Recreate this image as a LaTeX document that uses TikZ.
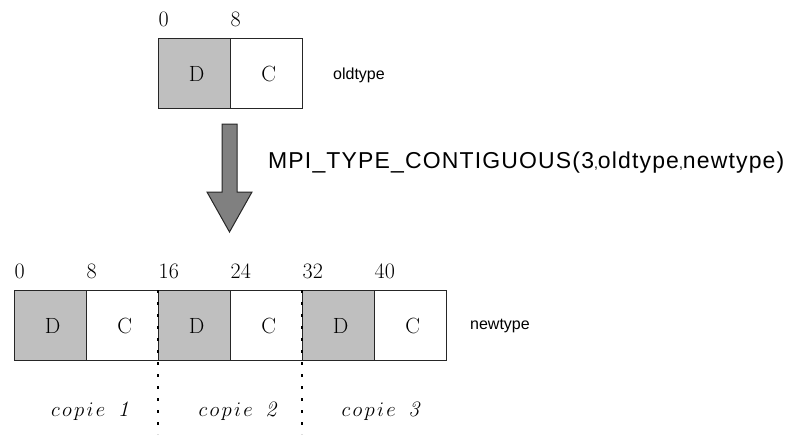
\documentclass[tikz,border=0pt]{standalone}
\usepackage{fontspec}
\newfontfamily\lblfont{Liberation Sans}
\newfontfamily\widelbl[LetterSpace=5]{Liberation Sans}
\newcommand{\cpy}[1]{$c\mkern2mu o\mkern2mu p\mkern2mu i\mkern2mu e\mkern11mu \mathit{#1}$}
\begin{document}
\begin{tikzpicture}[x=1pt,y=-1pt,
  cell/.style={draw=black!85, line width=1.3pt, minimum width=72pt, minimum height=70pt, inner sep=0pt, anchor=north west, font=\fontsize{22}{24}\selectfont},
  dcell/.style={cell, fill=black!25},
  num/.style={anchor=base west, inner sep=0pt, font=\fontsize{22}{24}\selectfont},
  sfl/.style={anchor=west, inner sep=0pt, font=\lblfont\fontsize{16}{18}\selectfont},
  cop/.style={anchor=base, inner sep=0pt, font=\fontsize{22}{24}\selectfont},
  sep/.style={line width=2.8pt, dash pattern=on 2.8pt off 9.2pt, black}]
\useasboundingbox (0,0) rectangle (796,442);
% old type
\node[dcell] (o1) at (158,38) {\raisebox{-8pt}{\hspace{4pt}D}};
\node[cell] (o2) at (230,38) {\raisebox{-8pt}{\hspace{4pt}C}};
\node[num] (on0) at (158.5,26) {0};
\node[num] (on8) at (230.5,26) {8};
\node[sfl] (ol) at (333,75) {oldtype};
% arrow
\draw[fill=black!50, draw=black!85, line width=1pt]
  (222,124) -- (237,124) -- (237,192) -- (252,192) -- (229.5,232) -- (207,192) -- (222,192) -- cycle;
\node[sfl, font=\widelbl\fontsize{23}{26}\selectfont] (call) at (268,163) {MPI\_TYPE\_CONTIGUOUS(3{\fontsize{14}{16}\selectfont,}oldtype{\fontsize{14}{16}\selectfont,}newtype)};
% new type
\node[dcell] (n1) at (14,290) {\raisebox{-8pt}{\hspace{4pt}D}};
\node[cell] (n2) at (86,290) {\raisebox{-8pt}{\hspace{4pt}C}};
\node[dcell] (n3) at (158,290) {\raisebox{-8pt}{\hspace{4pt}D}};
\node[cell] (n4) at (230,290) {\raisebox{-8pt}{\hspace{4pt}C}};
\node[dcell] (n5) at (302,290) {\raisebox{-8pt}{\hspace{4pt}D}};
\node[cell] (n6) at (374,290) {\raisebox{-8pt}{\hspace{4pt}C}};
\node[num] at (14.5,278) {0};
\node[num] at (86.5,278) {8};
\node[num] at (158.5,278) {16};
\node[num] at (230.5,278) {24};
\node[num] at (302.5,278) {32};
\node[num] at (374.5,278) {40};
\node[sfl] (nl) at (470,326) {newtype};
\coordinate (s1) at (158,434);
\coordinate (s2) at (302,434);
\draw[sep] (n3.north west) -- (s1);
\draw[sep] (n5.north west) -- (s2);
\node[cop] (c1) at (90,416) {\cpy{1}};
\node[cop] (c2) at (237.5,416) {\cpy{2}};
\node[cop] (c3) at (380.5,416) {\cpy{3}};
\end{tikzpicture}
\end{document}
